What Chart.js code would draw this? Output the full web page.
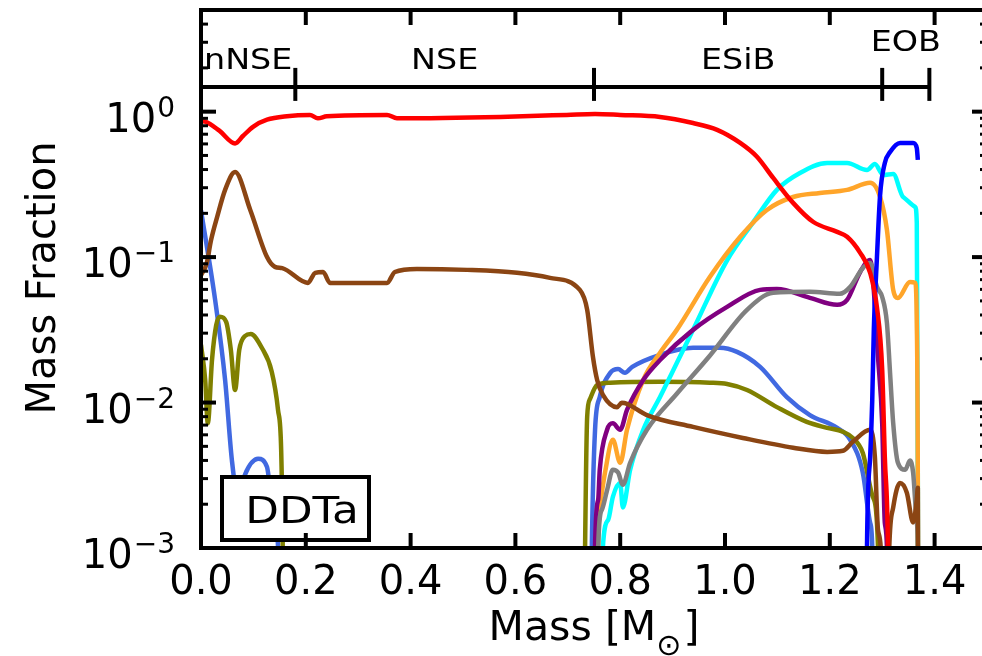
<!DOCTYPE html>
<html>
<head>
<meta charset="utf-8">
<script src="https://cdn.jsdelivr.net/npm/chart.js@4.4.1/dist/chart.umd.min.js"></script>
<style>
  html, body { margin: 0; padding: 0; background: #fff; overflow: hidden; }
  #wrap { width: 982px; height: 656px; overflow: hidden; }
</style>
</head>
<body>
<div id="wrap"><canvas id="c" width="992" height="656"></canvas></div>
<script>
// mass coordinate [Msun] and mass fractions
// (1e-5 = far below the plotted range, the line just drops out of view)
const redX = [0, 0.008, 0.035, 0.065, 0.08, 0.1, 0.126, 0.164, 0.208, 0.223, 0.240, 0.355, 0.374, 0.571, 0.698, 0.752, 0.80, 0.876, 0.939, 0.985, 1.029, 1.061, 1.092, 1.130, 1.168, 1.214, 1.233, 1.258, 1.277, 1.290, 1.300, 1.305, 1.311, 1.316];
const redY = [0.86, 0.853, 0.74, 0.605, 0.68, 0.79, 0.88, 0.93, 0.948, 0.90, 0.93, 0.95, 0.90, 0.92, 0.95, 0.965, 0.95, 0.92, 0.835, 0.75, 0.61, 0.49, 0.35, 0.236, 0.175, 0.149, 0.138, 0.107, 0.078, 0.045, 0.0168, 0.0042, 0.001, 1e-5];

const brownX = [0, 0.011, 0.019, 0.031, 0.046, 0.065, 0.094, 0.126, 0.141, 0.155, 0.204, 0.218, 0.233, 0.246, 0.355, 0.370, 0.412, 0.508, 0.603, 0.666, 0.723, 0.737, 0.748, 0.756, 0.767, 0.794, 0.803, 0.813, 0.851, 0.939, 1.034, 1.130, 1.195, 1.225, 1.244, 1.277, 1.286, 1.292, 1.298, 1.305, 1.313, 1.321, 1.334, 1.347, 1.359, 1.366, 1.368, 1.370];
const brownY = [0.075, 0.091, 0.13, 0.19, 0.29, 0.385, 0.211, 0.100, 0.0857, 0.084, 0.0665, 0.078, 0.079, 0.0665, 0.0665, 0.079, 0.083, 0.0817, 0.078, 0.072, 0.0595, 0.0434, 0.0206, 0.0143, 0.0113, 0.0093, 0.00995, 0.0098, 0.0082, 0.0068, 0.00571, 0.00489, 0.00458, 0.00466, 0.00537, 0.00649, 0.00424, 0.00133, 0.0009, 1e-5, 0.0009, 0.0019, 0.0028, 0.0024, 0.0015, 0.00215, 0.0026, 1e-5];

const royalX = [0, 0.027, 0.046, 0.059, 0.071, 0.084, 0.109, 0.126, 0.135, 0.147, 0.152, 0.74, 0.746, 0.752, 0.761, 0.781, 0.796, 0.809, 0.823, 0.876, 0.939, 0.990, 1.023, 1.067, 1.118, 1.162, 1.214, 1.239, 1.263, 1.277, 1.281, 1.285];
const royalY = [0.21, 0.0507, 0.0143, 0.0040, 0.0022, 0.0032, 0.0041, 0.0036, 0.00215, 0.00102, 1e-5, 1e-5, 0.00108, 0.0065, 0.0109, 0.016, 0.017, 0.016, 0.0176, 0.0213, 0.0238, 0.0238, 0.0223, 0.0176, 0.0109, 0.0082, 0.0067, 0.00554, 0.00329, 0.00149, 0.00102, 1e-5];

const oliveX = [0, 0.008, 0.013, 0.021, 0.029, 0.036, 0.048, 0.057, 0.065, 0.073, 0.084, 0.095, 0.116, 0.135, 0.147, 0.153, 0.156, 0.16, 0.728, 0.733, 0.737, 0.742, 0.756, 0.781, 0.876, 0.971, 1.004, 1.042, 1.099, 1.156, 1.195, 1.225, 1.244, 1.263, 1.282, 1.292, 1.296];
const oliveY = [0.025, 0.0143, 0.0072, 0.0196, 0.034, 0.0389, 0.0359, 0.023, 0.0122, 0.023, 0.0287, 0.0296, 0.0238, 0.0163, 0.0089, 0.0047, 0.001, 1e-5, 1e-5, 0.00102, 0.008, 0.0105, 0.0132, 0.0137, 0.0139, 0.0137, 0.0134, 0.0122, 0.0093, 0.00736, 0.0067, 0.0063, 0.0057, 0.0045, 0.00225, 0.00102, 1e-5];

const cyanX = [0.76, 0.767, 0.777, 0.786, 0.800, 0.805, 0.819, 0.844, 0.876, 0.908, 0.939, 1.004, 1.053, 1.099, 1.143, 1.195, 1.233, 1.271, 1.286, 1.302, 1.321, 1.340, 1.363, 1.366, 1.367, 1.368, 1.369];
const cyanY = [1e-5, 0.00102, 0.00156, 0.00225, 0.0028, 0.0019, 0.00345, 0.0065, 0.0109, 0.0187, 0.0316, 0.095, 0.172, 0.29, 0.379, 0.444, 0.444, 0.397, 0.437, 0.367, 0.373, 0.259, 0.221, 0.172, 0.023, 0.0025, 1e-5];

const orangeX = [0.755, 0.758, 0.763, 0.771, 0.786, 0.800, 0.813, 0.844, 0.876, 0.908, 0.971, 1.029, 1.080, 1.130, 1.181, 1.233, 1.277, 1.296, 1.309, 1.321, 1.330, 1.353, 1.363, 1.366, 1.368, 1.369];
const orangeY = [1e-5, 0.00102, 0.00215, 0.0033, 0.00554, 0.00385, 0.0065, 0.0143, 0.022, 0.0316, 0.073, 0.138, 0.211, 0.259, 0.276, 0.29, 0.324, 0.259, 0.154, 0.0595, 0.0524, 0.0675, 0.0665, 0.0353, 0.0025, 1e-5];

const purpleX = [0.75, 0.752, 0.758, 0.761, 0.775, 0.786, 0.800, 0.813, 0.844, 0.876, 0.939, 1.004, 1.067, 1.099, 1.162, 1.214, 1.233, 1.258, 1.277, 1.282, 1.292, 1.300, 1.305, 1.309, 1.313];
const purpleY = [1e-5, 0.00102, 0.00215, 0.00345, 0.0065, 0.0072, 0.0065, 0.0089, 0.0143, 0.0196, 0.0316, 0.0455, 0.0595, 0.0604, 0.0525, 0.047, 0.0508, 0.079, 0.0957, 0.073, 0.0206, 0.0072, 0.00149, 0.00102, 1e-5];

const grayX = [0.755, 0.758, 0.765, 0.775, 0.786, 0.796, 0.805, 0.819, 0.851, 0.908, 0.971, 1.042, 1.092, 1.162, 1.219, 1.239, 1.263, 1.277, 1.290, 1.300, 1.309, 1.315, 1.321, 1.330, 1.344, 1.353, 1.359, 1.366, 1.368, 1.370];
const grayY = [1e-5, 0.00102, 0.00183, 0.0025, 0.00345, 0.0033, 0.00272, 0.00385, 0.0065, 0.0115, 0.021, 0.0434, 0.0568, 0.0577, 0.0559, 0.0624, 0.0842, 0.091, 0.0624, 0.0532, 0.0353, 0.016, 0.0072, 0.00385, 0.00345, 0.0040, 0.0033, 0.00149, 0.00102, 1e-5];

const blueX = [1.268, 1.271, 1.277, 1.281, 1.284, 1.290, 1.296, 1.305, 1.315, 1.334, 1.359, 1.366, 1.368];
const blueY = [1e-5, 0.00102, 0.0042, 0.0104, 0.0316, 0.100, 0.267, 0.444, 0.528, 0.61, 0.61, 0.563, 0.466];

// axes
const xTicks = [0, 0.2, 0.4, 0.6, 0.8, 1.0, 1.2, 1.4];
const xTickLabels = ['0.0', '0.2', '0.4', '0.6', '0.8', '1.0', '1.2', '1.4'];
const yDecades = [1e-3, 1e-2, 1e-1, 1];
const yTickExps = ['\u22123', '\u22122', '\u22121', '0'];

// burning regions along the top
const zoneEdges = [0, 0.18, 0.75, 1.30, 1.39];
const zoneNames = ['nNSE', 'NSE', 'ESiB', 'EOB'];
const zoneLevel = 1.48;

const FONT = '"DejaVu Sans", sans-serif';

function pts(xs, ys) {
  return xs.map((v, i) => ({ x: v, y: ys[i] }));
}

function line(ctx, x1, y1, x2, y2) {
  ctx.beginPath();
  ctx.moveTo(x1, y1);
  ctx.lineTo(x2, y2);
  ctx.stroke();
}

// text a bit wider than the font, like in the figure
function wideText(ctx, s, cx, base, size, sx) {
  ctx.save();
  ctx.translate(cx, base);
  ctx.scale(sx, 1);
  ctx.font = size + 'px ' + FONT;
  ctx.textAlign = 'center';
  ctx.textBaseline = 'alphabetic';
  ctx.fillText(s, 0, 0);
  ctx.restore();
}

const framePlugin = {
  id: 'frame',
  afterDatasetsDraw(chart) {
    const { ctx, chartArea: a, scales: { x, y } } = chart;
    ctx.save();
    ctx.fillStyle = '#000';
    ctx.strokeStyle = '#000';

    // model label box
    ctx.fillStyle = '#fff';
    ctx.fillRect(a.left + 21, a.bottom - 71, 147, 63);
    ctx.lineWidth = 4;
    ctx.strokeRect(a.left + 21, a.bottom - 71, 147, 63);
    ctx.fillStyle = '#000';
    wideText(ctx, 'DDTa', a.left + 101, a.bottom - 25, 38, 1.15);

    // spines
    ctx.lineWidth = 4;
    ctx.strokeRect(a.left, a.top, a.right - a.left, a.bottom - a.top);

    // x ticks, inward on bottom and top
    xTicks.forEach(v => {
      const px = x.getPixelForValue(v);
      line(ctx, px, a.bottom, px, a.bottom - 15);
      line(ctx, px, a.top, px, a.top + 15);
    });

    // y ticks, inward on left and right
    for (let d = -3; d <= 0; d++) {
      for (let m = 1; m <= 9; m++) {
        const v = m * Math.pow(10, d);
        if (v > 5.01) continue;
        const py = y.getPixelForValue(v);
        const len = m === 1 ? 15 : 7;
        ctx.lineWidth = m === 1 ? 4 : 3;
        line(ctx, a.left, py, a.left + len, py);
        line(ctx, a.right, py, a.right - len, py);
      }
    }

    // y tick labels 10^n
    ctx.textAlign = 'right';
    ctx.textBaseline = 'alphabetic';
    yDecades.forEach((v, i) => {
      const py = y.getPixelForValue(v);
      ctx.font = '28px ' + FONT;
      const supW = ctx.measureText(yTickExps[i]).width;
      ctx.fillText(yTickExps[i], 175, py + 5);
      ctx.font = '40px ' + FONT;
      ctx.fillText('10', 175 - supW - 1, py + 20);
    });

    // x tick labels
    ctx.textAlign = 'center';
    ctx.font = '40px ' + FONT;
    xTicks.forEach((v, i) => {
      ctx.fillText(xTickLabels[i], x.getPixelForValue(v), a.bottom + 46);
    });

    // x title with subscript sun symbol
    const p1 = 'Mass [M', p2 = '\u2299', p3 = ']';
    ctx.font = '41px ' + FONT;
    const w1 = ctx.measureText(p1).width, w3 = ctx.measureText(p3).width;
    ctx.font = '30px ' + FONT;
    const w2 = ctx.measureText(p2).width;
    let tx = 593 - (w1 + w2 + w3) / 2;
    ctx.textAlign = 'left';
    ctx.font = '41px ' + FONT;
    ctx.fillText(p1, tx, 640);
    ctx.font = '30px ' + FONT;
    ctx.fillText(p2, tx + w1, 655);
    ctx.font = '41px ' + FONT;
    ctx.fillText(p3, tx + w1 + w2 + 2, 640);

    // y title
    ctx.save();
    ctx.translate(55, 278);
    ctx.rotate(-Math.PI / 2);
    ctx.textAlign = 'center';
    ctx.font = '40px ' + FONT;
    ctx.fillText('Mass Fraction', 0, 0);
    ctx.restore();

    // region bracket
    const by = y.getPixelForValue(zoneLevel);
    ctx.lineWidth = 4;
    line(ctx, x.getPixelForValue(zoneEdges[0]), by, x.getPixelForValue(zoneEdges[zoneEdges.length - 1]), by);
    zoneEdges.slice(1).forEach(v => {
      const px = x.getPixelForValue(v);
      line(ctx, px, by - 19, px, by + 14);
    });
    zoneNames.forEach((s, i) => {
      const cx = x.getPixelForValue((zoneEdges[i] + zoneEdges[i + 1]) / 2);
      const base = i === zoneNames.length - 1 ? by - 36 : by - 18;
      wideText(ctx, s, cx, base, 29, 1.15);
    });

    ctx.restore();
  }
};

function series(xs, ys, color) {
  return {
    data: pts(xs, ys),
    borderColor: color,
    borderWidth: 4.5,
    borderJoinStyle: 'round',
    pointRadius: 0,
    fill: false,
    cubicInterpolationMode: 'monotone'
  };
}

new Chart(document.getElementById('c'), {
  type: 'line',
  data: {
    datasets: [
      series(redX, redY, '#ff0000'),
      series(blueX, blueY, '#0000ff'),
      series(brownX, brownY, '#8b4513'),
      series(grayX, grayY, '#808080'),
      series(purpleX, purpleY, '#800080'),
      series(orangeX, orangeY, '#ffa52a'),
      series(cyanX, cyanY, '#00ffff'),
      series(oliveX, oliveY, '#808000'),
      series(royalX, royalY, '#4169e1')
    ]
  },
  options: {
    responsive: false,
    animation: false,
    devicePixelRatio: 1,
    layout: { padding: { left: 201, right: 5, top: 10, bottom: 108 } },
    plugins: { legend: { display: false }, tooltip: { enabled: false } },
    scales: {
      x: { type: 'linear', min: 0, max: 1.5, display: false },
      y: { type: 'logarithmic', min: 1e-3, max: 5, display: false }
    }
  },
  plugins: [framePlugin]
});
</script>
</body>
</html>
